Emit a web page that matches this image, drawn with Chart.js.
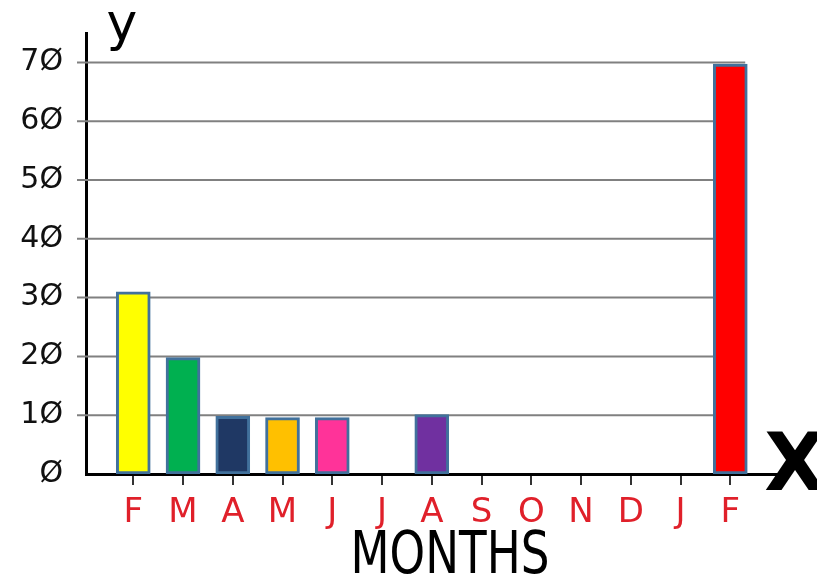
<!DOCTYPE html>
<html>
<head>
  <title>Months bar chart</title>
  <meta name="viewport" content="width=device-width, initial-scale=1">
  <style>
    html, body { margin: 0; padding: 0; background: #fff; }
    #wrap { width: 817px; height: 579px; }
  </style>
</head>
<body>
  <div id="wrap"><canvas id="myChart" width="817" height="579"></canvas></div>
  <script src="https://cdn.jsdelivr.net/npm/chart.js"></script>
  <script>
    // data
    var months = ['F', 'M', 'A', 'M', 'J', 'J', 'A', 'S', 'O', 'N', 'D', 'J', 'F'];
    var values = [31, 19.8, 9.8, 9.6, 9.6, 0, 10.1, 0, 0, 0, 0, 0, 69.7];
    var barColors = ['#ffff00', '#00b050', '#1f3864', '#ffc000', '#ff3399', '#ffffff', '#7030a0',
                     '#ffffff', '#ffffff', '#ffffff', '#ffffff', '#ffffff', '#ff0000'];
    var yTicks = [0, 10, 20, 30, 40, 50, 60, 70];

    var points = months.map(function (m, i) { return { x: i + 1, y: values[i] }; });

    var handFont = "'DejaVu Sans', sans-serif";

    // grid lines stop at the last bar, labels y / X / MONTHS drawn on top
    var sketchExtras = {
      id: 'sketchExtras',
      beforeDatasetsDraw: function (chart) {
        var ctx = chart.ctx, xs = chart.scales.x, ys = chart.scales.y;
        var a = chart.chartArea;
        var right = xs.getPixelForValue(months.length + 0.3);
        ctx.save();
        ctx.strokeStyle = '#808080';
        ctx.lineWidth = 2;
        yTicks.forEach(function (t) {
          if (t === 0) return;
          var py = ys.getPixelForValue(t);
          ctx.beginPath();
          ctx.moveTo(a.left - 9, py);
          ctx.lineTo(right, py);
          ctx.stroke();
        });
        ctx.restore();
      },
      afterDraw: function (chart) {
        var ctx = chart.ctx, a = chart.chartArea;
        ctx.save();
        ctx.fillStyle = '#000';
        ctx.textAlign = 'center';
        ctx.textBaseline = 'alphabetic';
        ctx.font = '52px ' + handFont;
        ctx.fillText('y', a.left + 36, 40);
        ctx.font = 'bold 80px ' + handFont;
        ctx.fillText('X', a.right + 5, a.bottom + 16);
        ctx.save();
        ctx.translate(450, 573);
        ctx.scale(0.78, 1);
        ctx.font = '58px ' + handFont;
        ctx.fillText('MONTHS', 0, 0);
        ctx.restore();
        ctx.restore();
      }
    };

    var chart = new Chart(document.getElementById('myChart'), {
      type: 'bar',
      data: {
        datasets: [{
          data: points,
          backgroundColor: barColors,
          borderColor: '#41719c',
          borderWidth: 3,
          borderSkipped: false,
          barThickness: 34
        }]
      },
      options: {
        responsive: false,
        animation: false,
        layout: { padding: { top: 22, right: 27, left: 0, bottom: 0 } },
        plugins: { legend: { display: false }, tooltip: { enabled: false } },
        scales: {
          x: {
            type: 'linear',
            min: 0.05,
            max: 14.2,
            offset: false,
            afterBuildTicks: function (scale) {
              scale.ticks = months.map(function (m, i) { return { value: i + 1 }; });
            },
            afterFit: function (scale) { scale.height = 105; },
            ticks: {
              autoSkip: false,
              maxRotation: 0,
              color: '#e0202a',
              padding: 8,
              font: { family: handFont, size: 34 },
              callback: function (v) { return months[v - 1]; }
            },
            grid: { offset: false, drawOnChartArea: false, drawTicks: true, tickLength: 11, color: '#333', lineWidth: 2 },
            border: { display: true, color: '#000', width: 3 }
          },
          y: {
            min: 0,
            max: 75,
            afterBuildTicks: function (scale) {
              scale.ticks = yTicks.map(function (t) { return { value: t }; });
            },
            afterFit: function (scale) { scale.width = 86; },
            ticks: {
              color: '#111',
              padding: 15,
              font: { family: "'DejaVu Sans', sans-serif", size: 30 },
              callback: function (v) { return String(v).replace(/0/g, '\u00d8'); }
            },
            grid: { display: false },
            border: { display: true, color: '#000', width: 3 }
          }
        }
      },
      plugins: [sketchExtras]
    });
  </script>
</body>
</html>
